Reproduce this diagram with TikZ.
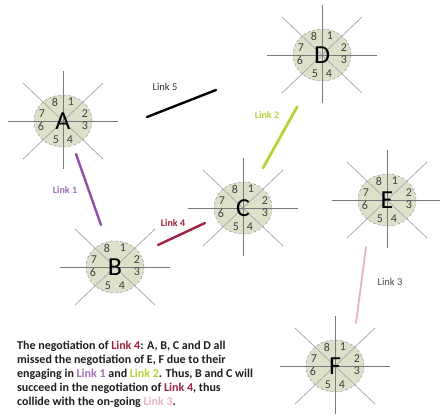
\documentclass[tikz,border=0pt]{standalone}
\usepackage{fontspec}
\setmainfont{Carlito}
\usetikzlibrary{shapes.geometric}
\definecolor{lfour}{HTML}{A3213F}
\definecolor{lone}{HTML}{9050A8}
\definecolor{lonet}{HTML}{A070B8}
\definecolor{ltwo}{HTML}{B5D33A}
\definecolor{lthree}{HTML}{E6B2C8}
\definecolor{hubfill}{HTML}{DEE1C9}
\definecolor{hvline}{HTML}{7A7A7A}
\definecolor{dgline}{HTML}{ADADAD}
\definecolor{txt}{HTML}{1E1E1E}
\tikzset{
  hub/.style={ellipse, minimum width=58pt, minimum height=52pt, inner sep=0pt,
    fill=hubfill, draw=gray!80, densely dashed, line width=0.5pt},
  hvl/.style={draw=hvline, line width=0.9pt},
  dgl/.style={draw=dgline, line width=0.8pt},
  letter/.style={font=\fontsize{26}{26}\selectfont, text=black, inner sep=0pt},
  num/.style={font=\fontsize{12}{12}\selectfont, text=black!75, inner sep=0pt},
  lnk/.style={line width=2.4pt, line cap=round},
  lbl/.style={font=\fontsize{10}{10}\selectfont\bfseries, inner sep=0pt},
}
\newcommand\station[5]{%
  \begin{scope}[shift={(#2,#3)}]
    \node[hub] (#1) at (0,0) {};
    \draw[dgl] (-40,-38) -- (40,38);
    \draw[dgl] (40,-38) -- (-40,38);
    \draw[hvl] (-55,0) -- (55,0);
    \ifx#5y\draw[hvl] (0,-50) -- (0,48);\fi
    \node[letter] (#1-l) at (0,0) {#4};
    \node[num] (#1-8) at (-8,-19) {8};
    \node[num] (#1-1) at (8,-19) {1};
    \node[num] (#1-2) at (22,-7) {2};
    \node[num] (#1-3) at (22,5) {3};
    \node[num] (#1-4) at (7,19) {4};
    \node[num] (#1-5) at (-7,19) {5};
    \node[num] (#1-6) at (-22,5) {6};
    \node[num] (#1-7) at (-21,-7) {7};
  \end{scope}}
\begin{document}
\begin{tikzpicture}[x=1pt,y=-1pt]
\useasboundingbox[fill=white] (0,0) rectangle (440,417);
\station{A}{63}{121}{A}{y}
\station{D}{322}{55}{D}{y}
\station{C}{243}{208}{C}{y}
\station{E}{387}{200}{E}{y}
\station{F}{335}{366}{F}{y}
\station{B}{115}{267}{B}{n}
% link end points
\coordinate (l5a) at (147,117); \coordinate (l5b) at (216,90);
\coordinate (l2a) at (263,168); \coordinate (l2b) at (297,107);
\coordinate (l1a) at (76,154);  \coordinate (l1b) at (101,225);
\coordinate (l4a) at (158,245); \coordinate (l4b) at (205,223);
\coordinate (l3a) at (366,247); \coordinate (l3b) at (356,323);
\draw[lnk, black] (l5a) -- (l5b);
\draw[lnk, ltwo, line width=2.8pt] (l2a) -- (l2b);
\draw[lnk, lone] (l1a) -- (l1b);
\draw[lnk, lfour] (l4a) -- (l4b);
\draw[lnk, lthree, line width=1.8pt] (l3a) -- (l3b);
\node[lbl, font=\fontsize{10.5}{10.5}\selectfont, text=black!80] (t5) at (165,87) {Link 5};
\node[lbl, text=ltwo] (t2) at (267,115) {Link 2};
\node[lbl, text=lonet] (t1) at (65,190) {Link 1};
\node[lbl, text=lfour] (t4) at (173,223) {Link 4};
\node[lbl, font=\fontsize{10.5}{10.5}\selectfont, text=black!70] (t3) at (390,282) {Link 3};
\node[anchor=north west, inner sep=0pt, align=left, text=txt,
  font=\fontsize{12}{14}\selectfont\bfseries] (txt) at (17,341)
{The negotiation of {\color{lfour}Link 4}: A, B, C and D all\\
missed the negotiation of E, F due to their\\
engaging in {\color{lonet}Link 1} and {\color{ltwo}Link 2}. Thus, B and C will\\
succeed in the negotiation of {\color{lfour}Link 4}, thus\\
collide with the on-going {\color{lthree}Link 3}.};
\end{tikzpicture}
\end{document}
